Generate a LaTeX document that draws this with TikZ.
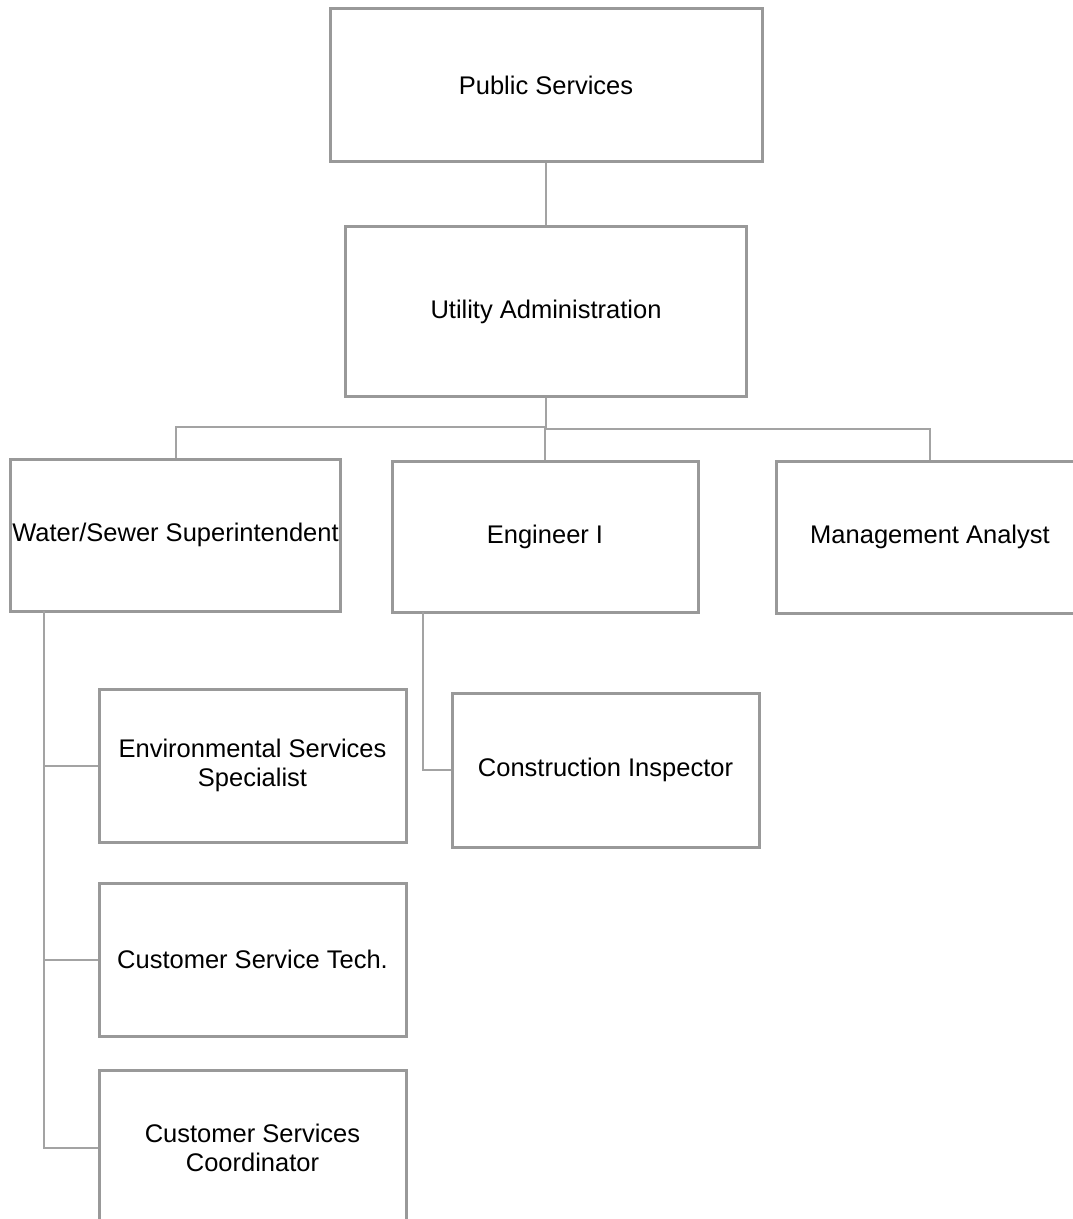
\documentclass[tikz,border=0pt]{standalone}
\usepackage{fontspec}
\setmainfont{Liberation Sans}
\definecolor{boxgray}{HTML}{999999}
\definecolor{linegray}{HTML}{A3A3A3}
\tikzset{
  orgbox/.style={draw=boxgray, line width=3pt, rectangle, inner sep=0pt,
    align=center, text=black, font=\fontsize{25.5}{28.5}\selectfont},
  conn/.style={draw=linegray, line width=2pt}
}
\begin{document}
\begin{tikzpicture}[x=1pt,y=-1pt]
\useasboundingbox (0,0) rectangle (1073,1219);
\clip (0,0) rectangle (1073,1219);
\node[orgbox, minimum width=432pt, minimum height=153pt] (pub) at (546,85) {Public Services};
\node[orgbox, minimum width=401pt, minimum height=170pt] (util) at (546,311.5) {Utility Administration};
\node[orgbox, minimum width=330pt, minimum height=152pt] (ws) at (175.5,535) {Water/Sewer Superintendent};
\node[orgbox, minimum width=306pt, minimum height=151pt] (eng) at (545,536.5) {Engineer I};
\node[orgbox, minimum width=308pt, minimum height=152pt] (mgmt) at (930,537) {Management Analyst};
\node[orgbox, minimum width=307pt, minimum height=153pt] (env) at (252.5,765.5) {Environmental Services\\Specialist};
\node[orgbox, minimum width=307pt, minimum height=154pt] (con) at (605.5,770) {Construction Inspector};
\node[orgbox, minimum width=307pt, minimum height=153pt] (tech) at (252.5,959.5) {Customer Service Tech.};
\node[orgbox, minimum width=307pt, minimum height=156pt] (coord) at (252.5,1148) {Customer Services\\Coordinator};

\coordinate (busL) at (546,427);
\coordinate (busR) at (546,429);
\coordinate (wsdrop) at (43.5,611);
\coordinate (engdrop) at (423,612);

\draw[conn] (pub.south) -- (util.north);
\draw[conn] (util.south) -- (busR);
\draw[conn] (busL) -| (ws.north);
\draw[conn] (busR) -| (eng.north);
\draw[conn] (busR) -| (mgmt.north);
\draw[conn] (wsdrop) |- (coord.west);
\draw[conn] (wsdrop |- env.west) -- (env.west);
\draw[conn] (wsdrop |- tech.west) -- (tech.west);
\draw[conn] (engdrop) |- (con.west);
\end{tikzpicture}
\end{document}
